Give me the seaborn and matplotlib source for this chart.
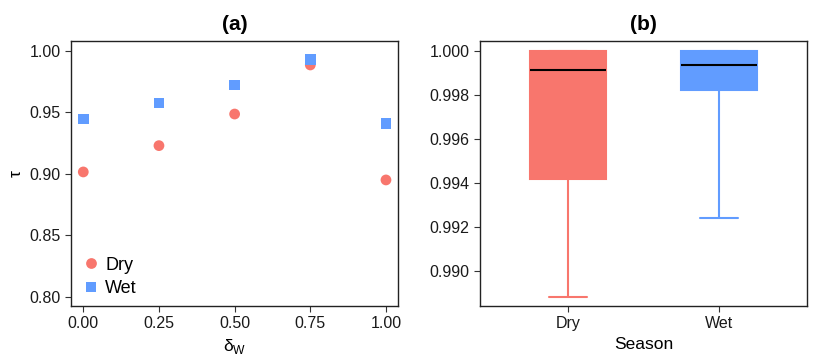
import pandas as pd
import matplotlib
matplotlib.use('Agg')
import matplotlib.pyplot as plt
import seaborn as sns

# Dados do painel (a)
delta_w = [0.00, 0.25, 0.50, 0.75, 1.00]
tau_dry = [0.9014, 0.9228, 0.9485, 0.9884, 0.8949]
tau_wet = [0.9445, 0.9575, 0.9721, 0.9930, 0.9407]

# Dados do painel (b)
seasons = ['Dry', 'Wet']
box_dry = [0.98882, 0.99417, 0.99911, 1.0, 1.0]
box_wet = [0.99238, 0.99821, 0.99934, 1.0, 1.0]

colors = {'Dry': '#F8766D', 'Wet': '#619CFF'}

sns.set_style('white')
plt.rcParams['font.family'] = ['Liberation Sans', 'DejaVu Sans']
plt.rcParams['mathtext.fontset'] = 'custom'
plt.rcParams['mathtext.rm'] = 'Liberation Sans'
plt.rcParams['text.color'] = 'black'
plt.rcParams['axes.labelcolor'] = 'black'

df_a = pd.DataFrame({
    'delta': delta_w * 2,
    'tau': tau_dry + tau_wet,
    'season': ['Dry'] * len(tau_dry) + ['Wet'] * len(tau_wet),
})
df_b = pd.DataFrame({
    'season': ['Dry'] * len(box_dry) + ['Wet'] * len(box_wet),
    'tau': box_dry + box_wet,
})

fig = plt.figure(figsize=(8.17, 3.58), dpi=100)
ax1 = fig.add_axes([0.0869, 0.1453, 0.4002, 0.7402])
ax2 = fig.add_axes([0.5875, 0.1453, 0.4003, 0.7402])

# (a) dispersão
sns.scatterplot(data=df_a, x='delta', y='tau', hue='season', style='season',
                markers={'Dry': 'o', 'Wet': 's'}, palette=colors,
                s=60, linewidth=0, ax=ax1)
ax1.set_xlim(-0.0406, 1.0396)
ax1.set_ylim(0.7924, 1.0079)
ax1.set_xticks(delta_w)
ax1.set_xticklabels(['0.00', '0.25', '0.50', '0.75', '1.00'])
ax1.set_yticks([0.80, 0.85, 0.90, 0.95, 1.00])
ax1.set_yticklabels(['0.80', '0.85', '0.90', '0.95', '1.00'])
ax1.set_xlabel(r'δ$_\mathregular{W}$', fontsize=12.5)
ax1.set_ylabel('τ', fontsize=12.5)
ax1.set_title('(a)', fontsize=15, fontweight='bold', pad=8, color='black')
leg = ax1.legend(loc='lower left', frameon=False, fontsize=13, title=None,
                 handletextpad=0.2, handlelength=1.2, borderaxespad=0.1,
                 labelspacing=0.35, markerscale=1.0)

# (b) boxplot
for s in seasons:
    sns.boxplot(data=df_b[df_b['season'] == s], x='season', y='tau', order=seasons,
                color=colors[s], linecolor=colors[s], saturation=1,
                width=0.5, whis=(0, 100), linewidth=1.5,
                medianprops={'color': 'black', 'linewidth': 1.5},
                ax=ax2)
ax2.set_xlim(-0.58, 1.58)
ax2.set_ylim(0.9884, 1.00044)
ax2.set_yticks([0.990, 0.992, 0.994, 0.996, 0.998, 1.000])
ax2.set_yticklabels(['0.990', '0.992', '0.994', '0.996', '0.998', '1.000'])
ax2.set_xlabel('Season', fontsize=12.5)
ax2.set_ylabel('')
ax2.set_title('(b)', fontsize=15, fontweight='bold', pad=8, color='black')

for ax in (ax1, ax2):
    for sp in ax.spines.values():
        sp.set_color('#222222')
        sp.set_linewidth(1.0)
    ax.tick_params(axis='both', which='both', direction='out', length=4,
                   width=0.8, color='#333333', labelsize=11.5,
                   labelcolor='#1a1a1a', bottom=True, left=True)

fig.savefig('out.png', dpi=100)
